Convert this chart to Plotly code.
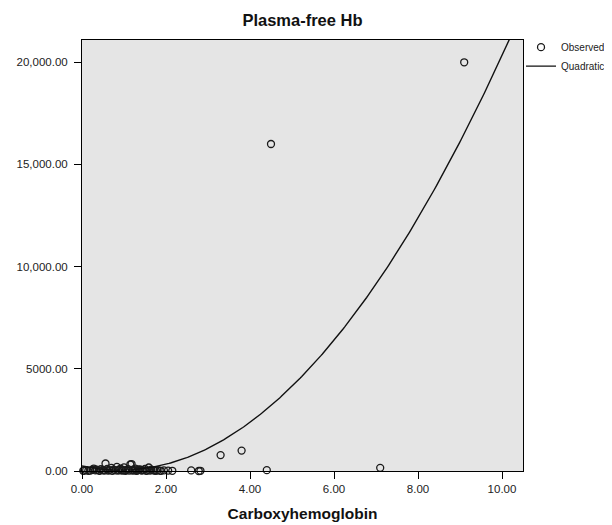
import numpy as np
import plotly.graph_objects as go

# ---- data ----
carboxy = [0.03, 0.05, 0.10, 0.15, 0.20, 0.25, 0.28, 0.32, 0.35, 0.40, 0.42, 0.45,
           0.50, 0.53, 0.56, 0.60, 0.62, 0.65, 0.70, 0.72, 0.75, 0.80, 0.83, 0.86,
           0.88, 0.92, 0.95, 0.97, 1.00, 1.03, 1.05, 1.10, 1.12, 1.15, 1.18, 1.20,
           1.22, 1.25, 1.27, 1.30, 1.32, 1.35, 1.38, 1.42, 1.45, 1.50, 1.53, 1.55,
           1.59, 1.62, 1.65, 1.70, 1.72, 1.76, 1.80, 1.85, 1.88, 1.95, 2.05, 2.15,
           2.60, 2.78, 2.82, 3.30, 3.80, 4.40, 4.50, 7.10, 9.10]
plasma_hb = [10, 20, 40, 5, 20, 60, 120, 30, 60, 30, 10, 90,
             50, 20, 366, 100, 20, 40, 150, 10, 70, 30, 205, 15,
             60, 110, 20, 40, 180, 10, 50, 90, 25, 318, 340, 15,
             60, 30, 120, 5, 30, 60, 80, 20, 40, 100, 10, 30,
             171, 20, 60, 40, 20, 10, 40, 15, 10, 30, 20, 10,
             30, 0, 10, 780, 1000, 40, 16000, 156, 20000]

# quadratic fit coefficients (constant, linear, quadratic)
quad_coefs = [245.5, -448.0, 245.6]

x_tickvals = [0, 2, 4, 6, 8, 10]
x_ticktext = ["0.00", "2.00", "4.00", "6.00", "8.00", "10.00"]
y_tickvals = [0, 5000, 10000, 15000, 20000]
y_ticktext = ["0.00", "5000.00", "10,000.00", "15,000.00", "20,000.00"]

x_range = [0, 10.5]
y_range = [0, 21090]

xs = np.linspace(x_range[0], x_range[1], 300)
ys = quad_coefs[0] + quad_coefs[1] * xs + quad_coefs[2] * xs ** 2

fig = go.Figure()
fig.add_trace(go.Scatter(
    x=carboxy, y=plasma_hb, mode="markers", name="Observed",
    marker=dict(symbol="circle-open", size=7, color="#1a1a1a", line=dict(width=1.3, color="#1a1a1a")),
    cliponaxis=False,
))
fig.add_trace(go.Scatter(
    x=xs, y=ys, mode="lines", name="Quadratic",
    line=dict(color="#111111", width=1.4),
))

# the page body has an 8px margin, so the figure is 604x517 inside the 612x525 window
W, H = 604, 517
font_family = "Liberation Sans, Arial, sans-serif"
fig.update_layout(
    width=W, height=H,
    margin=dict(l=74, r=89, t=32, b=53.5, autoexpand=False),
    paper_bgcolor="white",
    plot_bgcolor="#E5E5E5",
    font=dict(family=font_family, size=11.5, color="#222222"),
    title=dict(text="<b>Plasma-free Hb</b>", x=(302.5 - 8) / W, xanchor="center",
               y=1 - 12 / H, yanchor="middle", yref="container",
               font=dict(size=16.5, color="#111111")),
    showlegend=True,
    legend=dict(x=0.9955, xanchor="left", y=1.017, yanchor="top",
                font=dict(size=10, color="#222222"),
                bgcolor="rgba(0,0,0,0)", tracegroupgap=0, itemwidth=30),
    xaxis=dict(range=x_range, tickvals=x_tickvals, ticktext=x_ticktext,
               showgrid=False, zeroline=False, showline=True, linecolor="black",
               linewidth=1, mirror=True, ticks="outside", ticklen=7,
               tickcolor="black", tickwidth=1, automargin=False,
               title=dict(text="<b>Carboxyhemoglobin</b>", standoff=14,
                          font=dict(size=15.5, color="#111111"))),
    yaxis=dict(range=y_range, tickvals=y_tickvals, ticktext=y_ticktext,
               showgrid=False, zeroline=False, showline=True, linecolor="black",
               linewidth=1, mirror=True, ticks="outside", ticklen=7,
               tickcolor="black", tickwidth=1, automargin=False,
               ticklabelstandoff=4),
)

fig.write_html("out.html")
